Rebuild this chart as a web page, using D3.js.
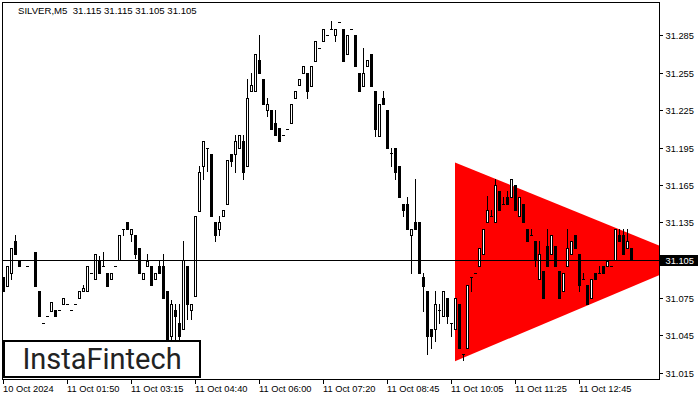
<!DOCTYPE html>
<html>
<head>
<meta charset="utf-8">
<script src="https://cdn.jsdelivr.net/npm/d3@7/dist/d3.min.js"></script>
<style>
html,body{margin:0;padding:0;background:#fff;}
svg{display:block;}
text{font-family:"Liberation Sans",Arial,sans-serif;}
</style>
</head>
<body>
<svg id="chart" width="700" height="400"></svg>
<script>
const titleText = "SILVER,M5  31.115 31.115 31.105 31.105";
const opens = [
31.091,31.084,31.095,31.120,31.104,31.105,31.100,31.105,31.111,31.080,
31.055,31.060,31.064,31.065,31.065,31.070,31.070,31.065,31.070,31.075,
31.080,31.080,31.095,31.090,31.104,31.100,31.095,31.090,31.100,31.105,
31.130,31.135,31.126,31.125,31.115,31.090,31.100,31.100,31.090,31.100,
31.100,31.080,31.044,31.065,31.055,31.050,31.100,31.065,31.076,31.144,
31.180,31.195,31.190,31.135,31.130,31.140,31.150,31.190,31.190,31.195,
31.200,31.180,31.240,31.240,31.265,31.250,31.225,31.225,31.215,31.211,
31.205,31.210,31.215,31.235,31.245,31.255,31.255,31.244,31.264,31.275,
31.280,31.285,31.290,31.285,31.295,31.290,31.270,31.290,31.285,31.255,
31.244,31.260,31.270,31.240,31.204,31.235,31.225,31.191,31.195,31.180,
31.150,31.150,31.125,31.135,31.135,31.091,31.080,31.050,31.050,31.065,
31.060,31.075,31.055,31.050,31.070,31.030,31.035,31.091,31.095,31.100,
31.110,31.135,31.140,31.135,31.160,31.150,31.155,31.155,31.165,31.140,
31.150,31.130,31.125,31.120,31.090,31.096,31.116,31.110,31.116,31.096,
31.080,31.100,31.110,31.125,31.110,31.090,31.085,31.075,31.095,31.095,
31.100,31.100,31.100,31.105,31.125,31.125,31.115,31.115];
const highs = [
31.091,31.100,31.115,31.125,31.104,31.105,31.100,31.105,31.111,31.080,
31.055,31.060,31.071,31.065,31.065,31.075,31.070,31.065,31.070,31.080,
31.085,31.100,31.095,31.110,31.108,31.111,31.095,31.095,31.100,31.125,
31.130,31.135,31.130,31.125,31.115,31.095,31.110,31.100,31.095,31.105,
31.110,31.080,31.073,31.070,31.070,31.120,31.100,31.070,31.140,31.180,
31.200,31.195,31.190,31.135,31.140,31.145,31.185,31.190,31.205,31.205,
31.205,31.250,31.255,31.270,31.285,31.250,31.235,31.225,31.225,31.211,
31.205,31.210,31.230,31.240,31.250,31.260,31.255,31.260,31.280,31.275,
31.290,31.285,31.296,31.290,31.295,31.290,31.285,31.290,31.285,31.255,
31.275,31.265,31.270,31.240,31.230,31.240,31.225,31.195,31.195,31.180,
31.150,31.155,31.130,31.170,31.135,31.095,31.080,31.050,31.080,31.070,
31.080,31.075,31.055,31.075,31.070,31.030,31.085,31.091,31.095,31.115,
31.130,31.156,31.145,31.170,31.160,31.155,31.160,31.170,31.165,31.155,
31.150,31.130,31.130,31.120,31.120,31.096,31.130,31.125,31.116,31.096,
31.095,31.130,31.120,31.125,31.110,31.095,31.085,31.090,31.095,31.100,
31.100,31.104,31.100,31.130,31.130,31.130,31.130,31.115];
const lows = [
31.080,31.084,31.090,31.110,31.100,31.105,31.100,31.105,31.084,31.060,
31.055,31.060,31.064,31.060,31.065,31.070,31.070,31.065,31.070,31.075,
31.080,31.080,31.095,31.090,31.095,31.100,31.084,31.090,31.100,31.105,
31.125,31.130,31.120,31.107,31.095,31.090,31.100,31.085,31.090,31.095,
31.075,31.030,31.035,31.035,31.035,31.050,31.058,31.058,31.076,31.144,
31.170,31.176,31.140,31.120,31.125,31.140,31.150,31.180,31.175,31.195,
31.170,31.180,31.240,31.240,31.255,31.230,31.220,31.210,31.205,31.200,
31.205,31.210,31.215,31.235,31.245,31.255,31.235,31.244,31.264,31.275,
31.280,31.285,31.290,31.280,31.295,31.264,31.270,31.290,31.260,31.240,
31.244,31.260,31.244,31.204,31.204,31.230,31.195,31.180,31.170,31.155,
31.140,31.130,31.095,31.130,31.095,31.064,31.030,31.035,31.040,31.055,
31.060,31.055,31.044,31.050,31.035,31.025,31.035,31.080,31.095,31.100,
31.110,31.135,31.140,31.135,31.145,31.150,31.150,31.155,31.145,31.140,
31.135,31.120,31.125,31.100,31.090,31.075,31.100,31.110,31.100,31.075,
31.080,31.100,31.110,31.115,31.080,31.090,31.070,31.075,31.090,31.095,
31.095,31.100,31.100,31.105,31.120,31.110,31.115,31.105];
const closes = [
31.080,31.100,31.115,31.110,31.100,31.105,31.100,31.105,31.084,31.060,
31.055,31.060,31.071,31.060,31.065,31.075,31.070,31.065,31.070,31.080,
31.083,31.100,31.095,31.110,31.095,31.100,31.084,31.095,31.100,31.125,
31.130,31.130,31.130,31.110,31.095,31.095,31.104,31.085,31.095,31.095,
31.075,31.032,31.070,31.060,31.044,31.105,31.070,31.070,31.140,31.175,
31.200,31.195,31.140,31.125,31.135,31.145,31.185,31.184,31.200,31.205,
31.175,31.235,31.245,31.270,31.255,31.230,31.230,31.210,31.205,31.200,
31.205,31.210,31.230,31.240,31.250,31.260,31.240,31.260,31.280,31.275,
31.290,31.285,31.290,31.290,31.295,31.264,31.285,31.290,31.260,31.240,
31.255,31.265,31.244,31.210,31.230,31.230,31.195,31.191,31.175,31.155,
31.145,31.130,31.130,31.130,31.095,31.084,31.044,31.044,31.070,31.065,
31.080,31.060,31.055,31.075,31.035,31.030,31.085,31.091,31.095,31.115,
31.130,31.145,31.140,31.165,31.145,31.150,31.150,31.170,31.145,31.155,
31.135,31.120,31.125,31.105,31.110,31.075,31.100,31.125,31.100,31.075,
31.095,31.115,31.120,31.115,31.085,31.090,31.070,31.090,31.090,31.095,
31.095,31.104,31.100,31.130,31.120,31.110,31.120,31.105];
const priceTicks = [31.015,31.045,31.075,31.105,31.135,31.165,31.195,31.225,31.255,31.285];
const timeTickBars = [0,16,32,48,64,80,96,112,128,144];
const timeTickLabels = ["10 Oct 2024","11 Oct 01:50","11 Oct 03:15","11 Oct 04:40","11 Oct 06:00","11 Oct 07:20","11 Oct 08:45","11 Oct 10:05","11 Oct 11:25","11 Oct 12:45"];
const currentPrice = 31.105;
const triangleBars = [113, 173, 113];
const trianglePrices = [31.183, 31.105, 31.024];
const logoText = "InstaFintech";

const svg = d3.select("#chart");
const L = 2, T = 2, R = 659, B = 379;
const x = d3.scaleLinear().domain([0, 157]).range([3.5, 3.5 + 4 * 157]);
const y = d3.scaleLinear().domain([31.015, 31.285]).range([372.5, 35]);

svg.append("defs").append("clipPath").attr("id", "plotclip")
  .append("rect").attr("x", L).attr("y", T).attr("width", R - L).attr("height", B - T);

const plot = svg.append("g").attr("clip-path", "url(#plotclip)");

// triangle pattern
plot.append("polygon")
  .attr("points", triangleBars.map((b, i) => [x(b) - 0.5, y(trianglePrices[i])].join(",")).join(" "))
  .attr("fill", "#ff0000");

const idx = d3.range(opens.length);
// wicks
plot.append("g").selectAll("line").data(idx).join("line")
  .attr("x1", i => x(i)).attr("x2", i => x(i))
  .attr("y1", i => Math.round(y(highs[i])))
  .attr("y2", i => Math.round(y(lows[i])) + 1)
  .attr("stroke", "#000").attr("stroke-width", 1);

// bodies
const bodies = plot.append("g");
idx.forEach(i => {
  const o = opens[i], c = closes[i];
  const top = Math.round(y(Math.max(o, c)));
  const bot = Math.round(y(Math.min(o, c)));
  const xc = x(i);
  if (bot - top < 1) {
    bodies.append("line").attr("x1", xc - 1.5).attr("x2", xc + 1.5)
      .attr("y1", top + 0.5).attr("y2", top + 0.5)
      .attr("stroke", "#000").attr("stroke-width", 1);
  } else if (c >= o) {
    bodies.append("rect").attr("x", xc - 1).attr("y", top + 0.5)
      .attr("width", 2).attr("height", bot - top)
      .attr("fill", "#fff").attr("stroke", "#000").attr("stroke-width", 1);
  } else {
    bodies.append("rect").attr("x", xc - 1.5).attr("y", top)
      .attr("width", 3).attr("height", bot - top + 1)
      .attr("fill", "#000");
  }
});

// current price line
plot.append("line").attr("x1", L).attr("x2", R)
  .attr("y1", Math.round(y(currentPrice)) + 0.5).attr("y2", Math.round(y(currentPrice)) + 0.5)
  .attr("stroke", "#000").attr("stroke-width", 1);

// frame
svg.append("rect").attr("x", L + 0.5).attr("y", T + 0.5)
  .attr("width", R - L).attr("height", B - T)
  .attr("fill", "none").attr("stroke", "#000").attr("stroke-width", 1);

// right axis
const yAxis = svg.append("g");
priceTicks.forEach(p => {
  const yy = Math.round(y(p)) + 0.5;
  yAxis.append("line").attr("x1", R + 1).attr("x2", R + 4).attr("y1", yy).attr("y2", yy)
    .attr("stroke", "#000");
  yAxis.append("text").attr("x", 665.5).attr("y", yy).attr("dy", "0.35em")
    .attr("font-size", 9.3).attr("fill", "#000").text(d3.format(".3f")(p));
});

// current price label
const cy = Math.round(y(currentPrice)) + 0.5;
svg.append("rect").attr("x", R + 1).attr("y", cy - 5.5).attr("width", 38).attr("height", 11).attr("fill", "#000");
svg.append("text").attr("x", 665.5).attr("y", cy).attr("dy", "0.35em")
  .attr("font-size", 9.3).attr("fill", "#fff").text(d3.format(".3f")(currentPrice));

// bottom axis
const xAxis = svg.append("g");
timeTickBars.forEach((b, k) => {
  const xx = Math.round(x(b) - 0.5) + 0.5;
  xAxis.append("line").attr("x1", xx).attr("x2", xx).attr("y1", B + 1).attr("y2", B + 5)
    .attr("stroke", "#000");
  xAxis.append("text").attr("x", xx - 0.5).attr("y", 392)
    .attr("font-size", 9.3).attr("fill", "#000").text(timeTickLabels[k]);
});

// title
svg.append("text").attr("x", 18).attr("y", 14).attr("font-size", 9.6).attr("fill", "#000")
  .attr("xml:space", "preserve").style("white-space", "pre").text(titleText);

// logo
svg.append("rect").attr("x", 4).attr("y", 341).attr("width", 196).attr("height", 36)
  .attr("fill", "#fff").attr("stroke", "#000").attr("stroke-width", 2);
svg.append("text").attr("x", 102).attr("y", 369).attr("text-anchor", "middle")
  .style("font-family", "Roboto, 'Open Sans', sans-serif").attr("font-size", 29)
  .attr("fill", "#222").text(logoText);
</script>
</body>
</html>
